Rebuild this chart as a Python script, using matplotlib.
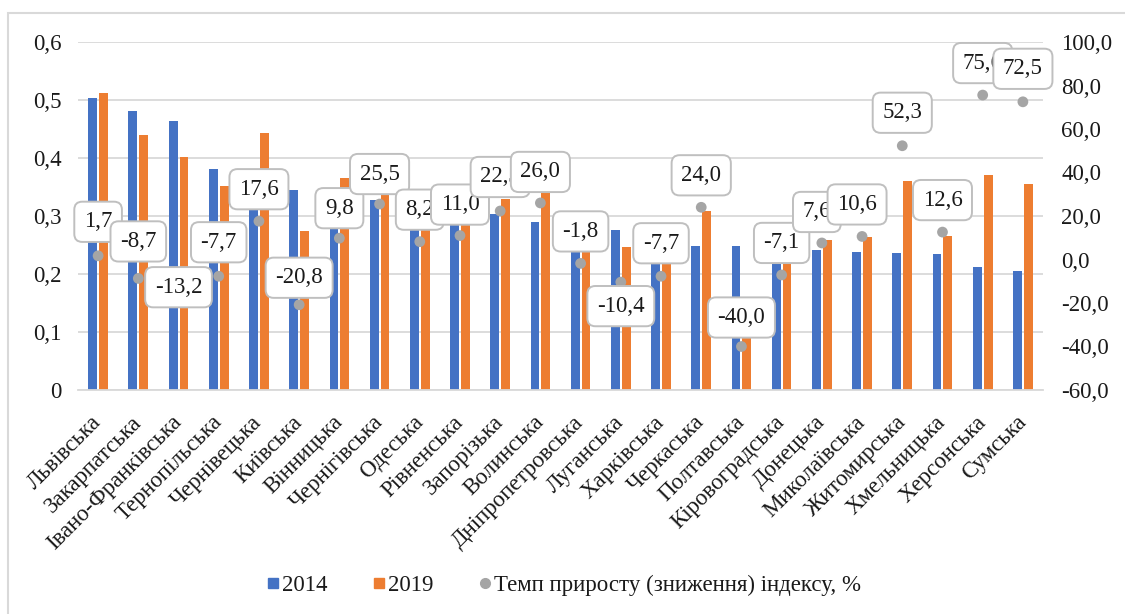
import matplotlib
matplotlib.use("Agg")
import matplotlib.pyplot as plt
from matplotlib.lines import Line2D
from matplotlib.patches import Rectangle
from matplotlib.ticker import FuncFormatter
import numpy as np

plt.rcParams['font.family'] = ['Liberation Serif', 'DejaVu Serif']

regions = ['Львівська', 'Закарпатська', 'Івано-Франківська', 'Тернопільська',
           'Чернівецька', 'Київська', 'Вінницька', 'Чернігівська', 'Одеська',
           'Рівненська', 'Запорізька', 'Волинська', 'Дніпропетровська',
           'Луганська', 'Харківська', 'Черкаська', 'Полтавська',
           'Кіровоградська', 'Донецька', 'Миколаївська', 'Житомирська',
           'Хмельницька', 'Херсонська', 'Сумська']
idx_2014 = [0.503, 0.481, 0.464, 0.381, 0.330, 0.344, 0.290, 0.328, 0.281,
            0.293, 0.303, 0.290, 0.245, 0.276, 0.224, 0.249, 0.249, 0.224,
            0.241, 0.238, 0.237, 0.234, 0.212, 0.206]
idx_2019 = [0.512, 0.439, 0.402, 0.352, 0.443, 0.274, 0.365, 0.350, 0.283,
            0.290, 0.330, 0.345, 0.241, 0.247, 0.218, 0.309, 0.095, 0.230,
            0.259, 0.263, 0.360, 0.265, 0.371, 0.356]
growth = [1.7, -8.7, -13.2, -7.7, 17.6, -20.8, 9.8, 25.5, 8.2, 11.0, 22.3,
          26.0, -1.8, -10.4, -7.7, 24.0, -40.0, -7.1, 7.6, 10.6, 52.3, 12.6,
          75.6, 72.5]
left_ticks = [0, 0.1, 0.2, 0.3, 0.4, 0.5, 0.6]
right_ticks = [-60, -40, -20, 0, 20, 40, 60, 80, 100]

# label box offsets from the dot, in pixels (dx, dy)
label_shift = [(0, 34), (0, 37), (0, 1), (0, 34), (0, 32), (0, 27), (0, 30),
               (0, 30), (0, 32), (0, 31), (0, 34), (0, 31), (0, 32), (0, -24),
               (0, 33), (0, 32), (0, 29), (0, 32), (-5, 31), (-5, 32),
               (0, 33), (0, 32), (0, 32), (0, 33)]

BLUE = '#4472C4'
ORANGE = '#ED7D31'
GREY = '#A5A5A5'
GRID = '#D9D9D9'
TXT = '#1A1A1A'
FS = 16.5

W, H = 1125, 614
fig = plt.figure(figsize=(W / 100, H / 100), dpi=100)
ax = fig.add_axes([78 / W, 1 - 390 / H, (1043 - 78) / W, 348 / H])

x = np.arange(len(regions))
bw = 0.22
ax.bar(x - 0.135, idx_2014, bw, color=BLUE, zorder=2)
ax.bar(x + 0.135, idx_2019, bw, color=ORANGE, zorder=2)

ax.set_xlim(-0.5, len(regions) - 0.5)
ax.set_ylim(0, 0.6)
ax.set_yticks(left_ticks)
ax.yaxis.set_major_formatter(FuncFormatter(
    lambda v, p: '0' if v == 0 else f'{v:.1f}'.replace('.', ',')))
ax.grid(axis='y', color=GRID, lw=1.3, zorder=0)
ax.set_axisbelow(True)
for s in ['top', 'right', 'left']:
    ax.spines[s].set_visible(False)
ax.spines['bottom'].set_color(GRID)
ax.spines['bottom'].set_linewidth(1.3)
ax.tick_params(axis='y', length=0, pad=12, labelsize=FS, colors=TXT)
ax.tick_params(axis='x', length=0, pad=21, labelsize=FS, colors=TXT)
ax.set_xticks(x)
ax.set_xticklabels(regions, rotation=45, ha='right', va='center',
                   rotation_mode='anchor')

ax2 = ax.twinx()
ax2.set_ylim(-60, 100)
ax2.set_yticks(right_ticks)
ax2.yaxis.set_major_formatter(FuncFormatter(
    lambda v, p: f'{v:.1f}'.replace('.', ',')))
ax2.tick_params(axis='y', length=0, pad=13, labelsize=FS, colors=TXT)
for s in ax2.spines.values():
    s.set_visible(False)
ax2.scatter(x, growth, s=60, color=GREY, zorder=3, edgecolors='none')

for i, v in enumerate(growth):
    dx, dy = label_shift[i]
    ax2.annotate(f'{v:.1f}'.replace('.', ','), (x[i], v),
                 xytext=(dx, dy), textcoords='offset pixels',
                 ha='center', va='center', fontsize=FS, color=TXT,
                 zorder=4 + i * 0.01,
                 bbox=dict(boxstyle='round,pad=0.42,rounding_size=0.35',
                           fc='white', ec='#BFBFBF', lw=1.4))

handles = [Line2D([], [], ls='none', marker='s', ms=7, color=BLUE),
           Line2D([], [], ls='none', marker='s', ms=7, color=ORANGE),
           Line2D([], [], ls='none', marker='o', ms=7, color=GREY)]
fig.legend(handles, ['2014', '2019', 'Темп приросту (зниження) індексу, %'],
           loc='center', bbox_to_anchor=(564 / W, 1 - 585 / H), ncol=3,
           frameon=False, fontsize=FS, handlelength=0.5, handletextpad=0.15,
           columnspacing=2.0, labelcolor=TXT)

fig.add_artist(Rectangle((8 / W, -0.1), 1.2, 1.1 - 13 / H,
                         transform=fig.transFigure, fill=False,
                         edgecolor=GRID, lw=1.5))

fig.savefig('out.png', dpi=100, facecolor='white')
